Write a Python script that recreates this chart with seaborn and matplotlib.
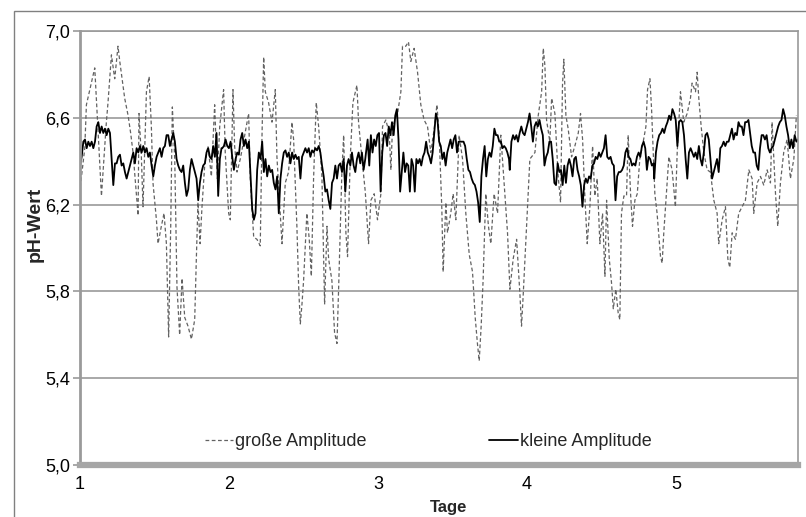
import numpy as np
import pandas as pd
import matplotlib
matplotlib.use("Agg")
import matplotlib.pyplot as plt
import seaborn as sns
from matplotlib.patches import Rectangle
from matplotlib.ticker import FuncFormatter

# große Amplitude: Zeitpunkte (Tage) und pH-Werte
gross_tage = [
    1.000, 1.005, 1.032, 1.043, 1.099, 1.144, 1.177, 1.188, 1.211, 1.233, 1.255, 1.267,
    1.300, 1.323, 1.340, 1.356, 1.390, 1.396, 1.412, 1.423, 1.446, 1.464, 1.479, 1.490,
    1.513, 1.524, 1.546, 1.564, 1.580, 1.595, 1.609, 1.620, 1.636, 1.651, 1.669, 1.685,
    1.703, 1.725, 1.748, 1.770, 1.781, 1.792, 1.806, 1.819, 1.837, 1.859, 1.882, 1.904,
    1.922, 1.938, 1.964, 1.975, 1.998, 2.009, 2.027, 2.038, 2.054, 2.076, 2.098, 2.132,
    2.143, 2.166, 2.188, 2.210, 2.221, 2.233, 2.244, 2.266, 2.289, 2.311, 2.322, 2.344,
    2.356, 2.378, 2.400, 2.423, 2.434, 2.456, 2.468, 2.479, 2.490, 2.501, 2.523, 2.539,
    2.553, 2.568, 2.586, 2.602, 2.624, 2.642, 2.658, 2.669, 2.691, 2.709, 2.725, 2.736,
    2.758, 2.770, 2.785, 2.796, 2.814, 2.832, 2.859, 2.870, 2.893, 2.915, 2.937, 2.953,
    2.975, 2.997, 3.020, 3.031, 3.053, 3.076, 3.087, 3.098, 3.132, 3.154, 3.165, 3.187,
    3.205, 3.221, 3.243, 3.266, 3.288, 3.310, 3.333, 3.355, 3.378, 3.396, 3.411, 3.429,
    3.438, 3.456, 3.467, 3.489, 3.505, 3.523, 3.545, 3.568, 3.590, 3.613, 3.635, 3.653,
    3.668, 3.680, 3.693, 3.706, 3.724, 3.742, 3.758, 3.780, 3.803, 3.825, 3.847, 3.870,
    3.886, 3.908, 3.931, 3.953, 3.964, 3.975, 3.998, 4.009, 4.020, 4.054, 4.076, 4.099,
    4.110, 4.121, 4.132, 4.154, 4.166, 4.188, 4.210, 4.226, 4.239, 4.248, 4.262, 4.277,
    4.300, 4.322, 4.345, 4.360, 4.374, 4.389, 4.405, 4.423, 4.441, 4.456, 4.472, 4.490,
    4.508, 4.524, 4.535, 4.553, 4.568, 4.580, 4.597, 4.613, 4.624, 4.635, 4.651, 4.669,
    4.680, 4.696, 4.709, 4.725, 4.741, 4.758, 4.781, 4.799, 4.810, 4.826, 4.837, 4.859,
    4.874, 4.897, 4.908, 4.919, 4.941, 4.953, 4.975, 4.997, 5.009, 5.031, 5.053, 5.076,
    5.098, 5.109, 5.132, 5.143, 5.154, 5.170, 5.188, 5.210, 5.232, 5.255, 5.277, 5.288,
    5.311, 5.333, 5.349, 5.362, 5.378, 5.400, 5.422, 5.445, 5.467, 5.490, 5.512, 5.523,
    5.546, 5.568, 5.590, 5.613, 5.635, 5.646, 5.669, 5.684, 5.702, 5.724, 5.747, 5.769,
    5.792, 5.809,
]
gross_ph = [
    6.28, 6.30, 6.46, 6.66, 6.83, 6.24, 6.58, 6.67, 6.89, 6.78, 6.93, 6.86,
    6.69, 6.61, 6.53, 6.44, 6.15, 6.62, 6.42, 6.19, 6.72, 6.79, 6.56, 6.30,
    6.13, 6.02, 6.10, 6.16, 6.02, 5.59, 6.10, 6.65, 6.41, 5.82, 5.60, 5.86,
    5.68, 5.64, 5.58, 5.67, 5.95, 6.21, 6.02, 6.19, 6.38, 6.47, 6.33, 6.66,
    6.32, 6.56, 6.73, 6.44, 6.16, 6.13, 6.73, 6.47, 6.35, 6.41, 6.49, 6.62,
    6.32, 6.05, 6.04, 6.01, 6.49, 6.88, 6.72, 6.67, 6.58, 6.73, 6.42, 6.16,
    6.02, 6.30, 6.35, 6.58, 6.50, 6.10, 5.82, 5.65, 5.74, 5.85, 6.16, 6.04,
    5.87, 6.32, 6.67, 6.56, 6.33, 5.74, 6.10, 5.95, 5.85, 5.61, 5.56, 5.81,
    6.35, 6.52, 6.07, 5.96, 6.41, 6.67, 6.75, 6.58, 6.41, 6.26, 6.02, 6.22,
    6.25, 6.13, 6.25, 6.56, 6.59, 6.53, 6.36, 6.56, 6.62, 6.72, 6.93, 6.93,
    6.95, 6.86, 6.92, 6.81, 6.66, 6.59, 6.56, 6.44, 6.55, 6.66, 6.52, 6.18,
    5.89, 6.21, 6.07, 6.16, 6.25, 6.13, 6.52, 6.41, 6.16, 5.97, 5.89, 5.68,
    5.56, 5.48, 5.64, 5.85, 6.25, 6.10, 6.02, 6.25, 6.16, 6.52, 6.30, 6.07,
    5.81, 5.95, 6.04, 5.79, 5.64, 5.78, 6.10, 6.25, 6.41, 6.44, 6.61, 6.72,
    6.92, 6.84, 6.59, 6.49, 6.69, 6.62, 6.33, 6.21, 6.75, 6.87, 6.61, 6.55,
    6.42, 6.47, 6.53, 6.62, 6.50, 6.24, 6.02, 6.19, 6.47, 6.24, 6.32, 6.02,
    6.16, 5.87, 6.22, 5.95, 5.84, 5.72, 5.81, 5.70, 5.67, 6.16, 6.24, 6.24,
    6.52, 6.25, 6.10, 6.22, 6.25, 6.41, 6.49, 6.56, 6.73, 6.78, 6.64, 6.25,
    6.16, 5.96, 5.93, 6.07, 6.30, 6.42, 6.36, 6.19, 6.44, 6.72, 6.58, 6.62,
    6.69, 6.76, 6.72, 6.81, 6.69, 6.56, 6.44, 6.36, 6.35, 6.22, 6.16, 6.02,
    6.13, 6.19, 5.95, 5.91, 6.07, 6.04, 6.16, 6.19, 6.22, 6.36, 6.32, 6.16,
    6.30, 6.33, 6.29, 6.36, 6.30, 6.58, 6.25, 6.10, 6.30, 6.44, 6.50, 6.32,
    6.41, 6.61,
]

# kleine Amplitude: pH-Werte je Tagesabschnitt (gleichmäßig abgetastet)
klein_abschnitte = [(1.000, 1.950), (1.955, 2.915), (2.920, 3.880), (3.885, 4.850), (4.855, 5.820)]
klein_1 = [
    6.38, 6.42, 6.49, 6.50, 6.46, 6.49, 6.47, 6.49, 6.46, 6.49, 6.56, 6.58, 6.53, 6.56,
    6.53, 6.55, 6.52, 6.55, 6.53, 6.41, 6.29, 6.39, 6.39, 6.42, 6.43, 6.38, 6.39, 6.35,
    6.32, 6.35, 6.38, 6.41, 6.44, 6.39, 6.46, 6.44, 6.47, 6.44, 6.47, 6.44, 6.46, 6.42,
    6.44, 6.38, 6.33, 6.38, 6.42, 6.44, 6.46, 6.42, 6.46, 6.47, 6.52, 6.52, 6.47, 6.50,
    6.53, 6.49, 6.41, 6.38, 6.36, 6.35, 6.38, 6.30, 6.24, 6.27, 6.36, 6.41, 6.38, 6.35,
    6.32, 6.22, 6.30, 6.35, 6.38, 6.39, 6.44, 6.46, 6.42, 6.41, 6.47, 6.42, 6.53, 6.24,
    6.41, 6.46,
]
klein_2 = [
    6.46, 6.47, 6.50, 6.47, 6.46, 6.49, 6.42, 6.36, 6.41, 6.44, 6.43, 6.50, 6.53, 6.47,
    6.50, 6.46, 6.49, 6.33, 6.18, 6.13, 6.16, 6.36, 6.44, 6.41, 6.49, 6.35, 6.41, 6.33,
    6.38, 6.35, 6.36, 6.30, 6.27, 6.33, 6.16, 6.32, 6.39, 6.44, 6.45, 6.42, 6.44, 6.39,
    6.44, 6.41, 6.43, 6.41, 6.42, 6.32, 6.42, 6.44, 6.46, 6.44, 6.46, 6.42, 6.45, 6.44,
    6.46, 6.45, 6.47, 6.44, 6.38, 6.33, 6.26, 6.27, 6.22, 6.18, 6.30, 6.32, 6.38, 6.32,
    6.38, 6.39, 6.35, 6.41, 6.26, 6.38, 6.41, 6.38, 6.44, 6.38, 6.35, 6.41, 6.44, 6.39,
    6.44, 6.36, 6.41,
]
klein_3 = [
    6.44, 6.50, 6.38, 6.52, 6.44, 6.50, 6.47, 6.52, 6.53, 6.26, 6.44, 6.52, 6.53, 6.47,
    6.56, 6.52, 6.58, 6.52, 6.61, 6.64, 6.50, 6.26, 6.35, 6.44, 6.35, 6.39, 6.38, 6.26,
    6.41, 6.38, 6.26, 6.41, 6.39, 6.41, 6.38, 6.42, 6.44, 6.49, 6.44, 6.42, 6.39, 6.44,
    6.53, 6.62, 6.59, 6.49, 6.47, 6.41, 6.44, 6.38, 6.44, 6.47, 6.50, 6.46, 6.50, 6.52,
    6.44, 6.49, 6.49, 6.49, 6.49, 6.47, 6.41, 6.36, 6.35, 6.32, 6.30, 6.29, 6.26, 6.21,
    6.12, 6.33, 6.41, 6.47, 6.33, 6.41, 6.44, 6.42, 6.47, 6.55, 6.52, 6.52, 6.49, 6.49,
    6.46, 6.47, 6.46, 6.44, 6.41,
]
klein_4 = [
    6.36, 6.49, 6.52, 6.50, 6.52, 6.49, 6.53, 6.56, 6.53, 6.52, 6.55, 6.58, 6.62, 6.56,
    6.49, 6.56, 6.58, 6.56, 6.59, 6.55, 6.52, 6.38, 6.42, 6.44, 6.49, 6.49, 6.41, 6.30,
    6.29, 6.39, 6.35, 6.36, 6.29, 6.38, 6.30, 6.38, 6.41, 6.38, 6.33, 6.41, 6.42, 6.36,
    6.33, 6.29, 6.19, 6.29, 6.32, 6.30, 6.33, 6.32, 6.38, 6.39, 6.42, 6.41, 6.44, 6.42,
    6.44, 6.46, 6.52, 6.42, 6.41, 6.42, 6.39, 6.38, 6.22, 6.33, 6.35, 6.35, 6.36, 6.38,
    6.44, 6.46, 6.42, 6.41, 6.38, 6.39, 6.38, 6.42, 6.44, 6.42, 6.47, 6.49, 6.46, 6.36,
    6.42, 6.41, 6.38, 6.39,
]
klein_5 = [
    6.32, 6.44, 6.49, 6.52, 6.53, 6.55, 6.53, 6.56, 6.58, 6.61, 6.59, 6.64, 6.62, 6.59,
    6.47, 6.58, 6.59, 6.58, 6.52, 6.41, 6.32, 6.44, 6.46, 6.44, 6.42, 6.44, 6.41, 6.47,
    6.41, 6.38, 6.44, 6.52, 6.53, 6.50, 6.41, 6.32, 6.35, 6.38, 6.41, 6.35, 6.46, 6.47,
    6.49, 6.47, 6.49, 6.49, 6.52, 6.55, 6.50, 6.53, 6.52, 6.58, 6.56, 6.56, 6.52, 6.58,
    6.58, 6.59, 6.53, 6.47, 6.44, 6.44, 6.38, 6.36, 6.46, 6.52, 6.52, 6.50, 6.52, 6.46,
    6.44, 6.46, 6.47, 6.50, 6.53, 6.56, 6.58, 6.59, 6.64, 6.61, 6.56, 6.52, 6.46, 6.50,
    6.46, 6.52, 6.49, 6.50,
]

y_ticks = [5.0, 5.4, 5.8, 6.2, 6.6, 7.0]
x_ticks = [1, 2, 3, 4, 5]

klein_tage = []
klein_ph = []
for (t0, t1), werte in zip(klein_abschnitte, [klein_1, klein_2, klein_3, klein_4, klein_5]):
    klein_tage.extend(np.linspace(t0, t1, len(werte)))
    klein_ph.extend(werte)

df_gross = pd.DataFrame({"Tage": gross_tage, "pH": gross_ph})
df_klein = pd.DataFrame({"Tage": klein_tage, "pH": klein_ph})

sns.set_theme(style="white")
plt.rcParams["font.family"] = ["Liberation Sans", "DejaVu Sans"]

fig = plt.figure(figsize=(8.06, 5.17), dpi=100, facecolor="w")
ax = fig.add_axes([80 / 806, 1 - 465 / 517, 718 / 806, 434 / 517])

sns.lineplot(data=df_gross, x="Tage", y="pH", ax=ax, color="#626262", linewidth=0.9,
             linestyle=(0, (3, 2)), sort=False, estimator=None, label="große Amplitude")
sns.lineplot(data=df_klein, x="Tage", y="pH", ax=ax, color="black", linewidth=1.3,
             sort=False, estimator=None, label="kleine Amplitude")

ax.set_xlim(1, 5.82)
ax.set_ylim(5.0, 7.0)
ax.set_xticks(x_ticks)
ax.set_yticks(y_ticks)
ax.yaxis.set_major_formatter(FuncFormatter(lambda v, p: f"{v:.1f}".replace(".", ",")))
ax.grid(axis="y", color="#9a9a9a", linewidth=1.2)
ax.set_axisbelow(True)
ax.tick_params(axis="y", left=True, length=5, width=1.2, color="#9a9a9a", pad=2,
               labelsize=13, labelcolor="black")
ax.tick_params(axis="x", bottom=False, length=0, pad=8, labelsize=13, labelcolor="black")

for side in ["top", "right"]:
    ax.spines[side].set_color("#9a9a9a")
    ax.spines[side].set_linewidth(1.2)
ax.spines["left"].set_color("#9a9a9a")
ax.spines["left"].set_linewidth(2)
ax.spines["bottom"].set_color("#a6a6a6")
ax.spines["bottom"].set_linewidth(4.5)

ax.set_xlabel("Tage", fontsize=12, fontweight="bold")
ax.xaxis.set_label_coords(0.514, -0.081)
ax.xaxis.label.set_va("top")
ax.set_ylabel("pH-Wert", fontsize=14, fontweight="bold")
ax.yaxis.set_label_coords(-0.050, 0.555)

ax.legend(loc="center", bbox_to_anchor=(0.485, 0.053), ncol=2, frameon=False,
          fontsize=13, handlelength=1.6, handletextpad=0.1, columnspacing=6.8)

fig.patches.append(Rectangle((14 / 806, -0.1), 1.2, 1 - 11 / 517 + 0.1,
                             transform=fig.transFigure, fill=False,
                             edgecolor="#808080", linewidth=1.0))

fig.savefig("out.png", dpi=100, facecolor="w")
